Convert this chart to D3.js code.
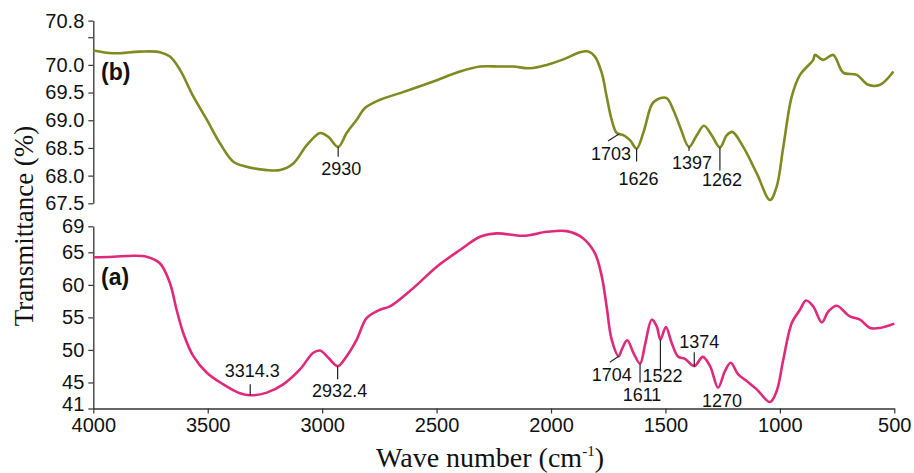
<!DOCTYPE HTML>
<html lang="en">
<head>
<meta charset="utf-8">
<title>FTIR spectra</title>
<script src="https://cdn.jsdelivr.net/npm/d3@7"></script>
<style>
  body { margin: 0; background: #fff; }
  svg text { font-family: "Liberation Sans", Arial, sans-serif; fill: #111; }
</style>
</head>
<body>
<div id="stage"></div>
<script>
// spectrum (b), top
var wnB = [4000, 3913, 3796, 3709, 3665, 3621, 3563, 3504, 3446, 3388, 3330, 3242, 3184, 3126, 3067, 3009, 2973, 2930,
  2893, 2849, 2813, 2747, 2660, 2514, 2398, 2310, 2223, 2165, 2092, 2019, 1946, 1873, 1837, 1808, 1778, 1757, 1735,
  1713, 1684, 1655, 1626, 1597, 1560, 1538, 1495, 1466, 1436, 1397, 1363, 1332, 1298, 1262, 1232, 1208, 1160, 1101,
  1043, 1014, 985, 948, 912, 854, 847, 810, 767, 723, 664, 614, 562, 504];
var tB = [70.26, 70.21, 70.24, 70.23, 70.15, 69.91, 69.43, 69.01, 68.58, 68.25, 68.16, 68.10, 68.10, 68.22, 68.55, 68.77, 68.70, 68.52,
  68.77, 69.01, 69.22, 69.37, 69.49, 69.70, 69.88, 69.97, 69.97, 69.97, 69.94, 70.00, 70.10, 70.23, 70.24, 70.15, 69.85, 69.43, 69.01,
  68.77, 68.73, 68.64, 68.49, 68.77, 69.28, 69.37, 69.40, 69.19, 68.88, 68.52, 68.73, 68.90, 68.73, 68.51, 68.73, 68.79, 68.52, 68.04,
  67.56, 67.80, 68.52, 69.43, 69.82, 70.09, 70.18, 70.09, 70.18, 69.86, 69.82, 69.64, 69.64, 69.88];

// spectrum (a), bottom
var wnA = [4000, 3913, 3825, 3767, 3709, 3665, 3636, 3607, 3563, 3504, 3432, 3359, 3314.3, 3242, 3170, 3097, 3039, 3009, 2973, 2932.4,
  2893, 2849, 2805, 2747, 2704, 2602, 2499, 2398, 2310, 2238, 2121, 2019, 1931, 1859, 1808, 1778, 1757, 1735, 1704, 1691, 1667,
  1640, 1611, 1589, 1560, 1538, 1522, 1498, 1473, 1444, 1415, 1374, 1337, 1305, 1270, 1240, 1215, 1182, 1145, 1101, 1043, 1014,
  985, 948, 912, 886, 854, 817, 788, 752, 694, 650, 606, 562, 500];
var tA = [64.24, 64.33, 64.48, 64.33, 63.32, 60.26, 56.18, 52.61, 49.04, 46.50, 44.71, 43.33, 43.03, 43.44, 44.71, 47.00, 49.56, 49.91, 48.79, 47.51,
  49.04, 51.59, 54.91, 56.18, 56.68, 59.50, 62.80, 65.35, 67.39, 67.91, 67.54, 68.15, 68.26, 67.14, 64.85, 61.27, 56.68, 51.59, 49.04, 50.06, 51.48,
  49.56, 47.92, 50.83, 54.65, 53.62, 51.59, 53.53, 51.09, 48.94, 48.64, 47.51, 48.94, 47.51, 44.20, 46.74, 48.03, 46.24, 45.21, 43.94, 42.00, 43.68,
  48.53, 54.14, 56.18, 57.60, 56.68, 54.24, 55.92, 56.79, 55.15, 54.65, 53.38, 53.38, 54.04];

var xTicks = [4000, 3500, 3000, 2500, 2000, 1500, 1000, 500];
var yTicksB = [67.5, 68.0, 68.5, 69.0, 69.5, 70.0, 70.5, 70.8];
var yTicksA = [41, 45, 50, 55, 60, 65, 69];

// peak labels: wavenumber, transmittance, text, tick end (dx,dy), label offset, anchor
var peaksB = [
  [2930, 68.52, "2930", 0, 10, 3, 28, "middle"],
  [1703, 68.75, "1703", -11, 7, 12, 26, "end"],
  [1626, 68.49, "1626", 0, 13, 2, 37, "middle"],
  [1397, 68.52, "1397", 0, 4, 3, 22, "middle"],
  [1262, 68.51, "1262", 0, 23, 2, 39, "middle"]
];
var peaksA = [
  [3314.3, 43.03, "3314.3", 0, -11, 2, -18, "middle"],
  [2932.4, 47.51, "2932.4", 0, 13, 2, 31, "middle"],
  [1704, 49.04, "1704", -9, 6, 13, 25, "end"],
  [1611, 47.92, "1611", 0, 19, 2, 38, "middle"],
  [1522, 51.59, "1522", 0, 32, 2, 42, "middle"],
  [1374, 47.51, "1374", 0, -14, 5, -18, "middle"],
  [1270, 44.20, "1270", 0, 0, 4, 19, "middle"]
];

var svg = d3.select("#stage").append("svg").attr("width", 914).attr("height", 473);

var x = d3.scaleLinear().domain([4000, 500]).range([93.3, 894.3]);
var yB = d3.scaleLinear().domain([67.5, 70.8]).range([203.3, 20.6]);
var yA = d3.scaleLinear().domain([41, 69]).range([408.5, 226.3]);

function styleAxis(g, size) {
  g.select(".domain").attr("stroke", "#333").attr("stroke-width", 1.3);
  g.selectAll(".tick line").attr("stroke", "#333").attr("stroke-width", 1.2);
  g.selectAll(".tick text").attr("font-size", size).attr("fill", "#111");
}

svg.append("g").attr("transform", "translate(93.3,0)")
  .call(d3.axisLeft(yB).tickValues(yTicksB).tickSize(5).tickSizeOuter(0).tickPadding(4)
    .tickFormat(function (d) { return d == 70.5 ? "" : d3.format(".1f")(d); }))
  .call(styleAxis, 20);

var axA = svg.append("g").attr("transform", "translate(93.3,0)")
  .call(d3.axisLeft(yA).tickValues(yTicksA).tickSize(5).tickSizeOuter(0).tickPadding(4).tickFormat(d3.format("d")))
  .call(styleAxis, 20);
// lift the bottom label a bit so it clears "4000"
axA.selectAll(".tick text").filter(function (d) { return d == 41; }).attr("dy", "0.12em");

svg.append("g").attr("transform", "translate(0,408.5)")
  .call(d3.axisBottom(x).tickValues(xTicks).tickSize(5).tickSizeOuter(0).tickPadding(4).tickFormat(d3.format("d")))
  .call(styleAxis, 20);

function drawSpectrum(wn, t, y, color, peaks) {
  var line = d3.line()
    .x(function (d, i) { return x(wn[i]); })
    .y(function (d, i) { return y(t[i]); })
    .curve(d3.curveCatmullRom.alpha(0.5));
  svg.append("path").datum(t)
    .attr("d", line)
    .attr("fill", "none")
    .attr("stroke", color)
    .attr("stroke-width", 2.6)
    .attr("stroke-linejoin", "round");

  var g = svg.append("g");
  peaks.forEach(function (p) {
    var px = x(p[0]), py = y(p[1]);
    if (p[3] != 0 || p[4] != 0) {
      g.append("line")
        .attr("x1", px).attr("y1", py)
        .attr("x2", px + p[3]).attr("y2", py + p[4])
        .attr("stroke", "#222").attr("stroke-width", 1.2);
    }
    g.append("text")
      .attr("x", px + p[5]).attr("y", py + p[6])
      .attr("text-anchor", p[7])
      .attr("font-size", 18)
      .text(p[2]);
  });
}

drawSpectrum(wnB, tB, yB, "#7f8b21", peaksB);
drawSpectrum(wnA, tA, yA, "#df2a7b", peaksA);

svg.append("text").attr("x", 101).attr("y", 80)
  .attr("font-size", 23).attr("font-weight", "bold").text("(b)");
svg.append("text").attr("x", 101).attr("y", 285)
  .attr("font-size", 23).attr("font-weight", "bold").text("(a)");

svg.append("text")
  .attr("transform", "translate(33,226) rotate(-90)")
  .attr("text-anchor", "middle")
  .style("font-family", "'Liberation Serif', 'Times New Roman', serif")
  .attr("font-size", 27)
  .text("Transmittance (%)");

var xt = svg.append("text")
  .attr("x", 490).attr("y", 467)
  .attr("text-anchor", "middle")
  .style("font-family", "'Liberation Serif', 'Times New Roman', serif")
  .attr("font-size", 28);
xt.append("tspan").text("Wave number (cm");
xt.append("tspan").attr("font-size", 15).attr("dy", -11).text("-1");
xt.append("tspan").attr("dy", 11).text(")");
</script>
</body>
</html>
